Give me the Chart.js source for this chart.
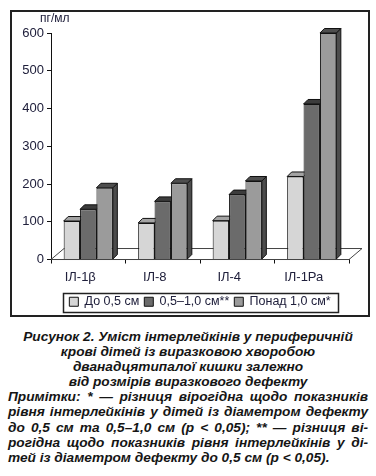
<!DOCTYPE html>
<html>
<head>
<meta charset="utf-8">
<script src="https://cdn.jsdelivr.net/npm/chart.js@4"></script>
<style>
  body { margin: 0; background: #fff; width: 376px; height: 476px; position: relative; overflow: hidden; }
  #frame { position: absolute; left: 10px; top: 10px; width: 356px; height: 303px; border: 2px solid #222; }
  #wrap { position: absolute; left: 0; top: 0; width: 356px; height: 306px; }
  #cap { position: absolute; left: 8px; top: 329px; width: 360px; font: italic bold 13.7px "Liberation Sans", Arial, sans-serif; line-height: 15.1px; color: #151515; }
  #cap .c { text-align: center; white-space: nowrap; }
  #cap .j { text-align: justify; text-align-last: justify; white-space: nowrap; }
  #cap .l { text-align: left; white-space: nowrap; }
</style>
</head>
<body>
<div id="frame"><div id="wrap"><canvas id="chart"></canvas></div></div>
<div id="cap">
  <div class="c">Рисунок 2. Уміст інтерлейкінів у периферичній</div>
  <div class="c">крові дітей із виразковою хворобою</div>
  <div class="c">дванадцятипалої кишки залежно</div>
  <div class="c">від розмірів виразкового дефекту</div>
  <div class="j">Примітки: * — різниця вірогідна щодо показників</div>
  <div class="j">рівня інтерлейкінів у дітей із діаметром дефекту</div>
  <div class="j">до 0,5 см та 0,5–1,0 см (р &lt; 0,05); ** — різниця ві-</div>
  <div class="j">рогідна щодо показників рівня інтерлейкінів у ді-</div>
  <div class="l">тей із діаметром дефекту до 0,5 см (р &lt; 0,05).</div>
</div>
<script>
Chart.defaults.font.family = "'Liberation Sans', Arial, sans-serif";
Chart.defaults.font.size = 13;
Chart.defaults.color = '#20203c';

const categories = ['ІЛ-1β', 'ІЛ-8', 'ІЛ-4', 'ІЛ-1Ра'];
const upTo05 = [102, 97, 103, 220];
const from05to10 = [133, 154, 172, 412];
const over10 = [190, 202, 208, 600];
const yTicks = [0, 100, 200, 300, 400, 500, 600];

const LIGHT = '#d6d6d6';
const DARK = '#6b6b6b';
const MID = '#9b9b9b';
const topColors = ['#a4a4a4', '#3c3c3c', '#4e4e4e'];
const sideColors = ['#9a9a9a', '#3a3a3a', '#4c4c4c'];
const DX = 4.5, DY = 4.5;

// floor + 3d faces behind the front faces
const depth3d = {
  id: 'depth3d',
  beforeDatasetsDraw(chart) {
    const { ctx, chartArea: a } = chart;
    ctx.save();
    // floor
    ctx.beginPath();
    ctx.moveTo(a.left, a.bottom);
    ctx.lineTo(a.left + 13, a.bottom - 11);
    ctx.lineTo(a.right + 13, a.bottom - 11);
    ctx.lineTo(a.right, a.bottom);
    ctx.closePath();
    ctx.fillStyle = '#fff';
    ctx.fill();
    ctx.strokeStyle = '#444';
    ctx.lineWidth = 1;
    ctx.stroke();
    chart.data.datasets.forEach((ds, i) => {
      const meta = chart.getDatasetMeta(i);
      meta.data.forEach(bar => {
        const l = bar.x - bar.width / 2, r = bar.x + bar.width / 2;
        ctx.lineWidth = 1;
        ctx.strokeStyle = '#111';
        // side
        ctx.beginPath();
        ctx.moveTo(r, bar.y);
        ctx.lineTo(r + DX, bar.y - DY);
        ctx.lineTo(r + DX, bar.base - DY);
        ctx.lineTo(r, bar.base);
        ctx.closePath();
        ctx.fillStyle = sideColors[i];
        ctx.fill();
        ctx.stroke();
        // top
        ctx.beginPath();
        ctx.moveTo(l, bar.y);
        ctx.lineTo(l + DX, bar.y - DY);
        ctx.lineTo(r + DX, bar.y - DY);
        ctx.lineTo(r, bar.y);
        ctx.closePath();
        ctx.fillStyle = topColors[i];
        ctx.fill();
        ctx.stroke();
      });
    });
    ctx.restore();
  },
  afterDraw(chart) {
    const { ctx, chartArea: a, legend } = chart;
    ctx.save();
    ctx.fillStyle = '#20203c';
    ctx.font = "12px 'Liberation Sans', Arial, sans-serif";
    ctx.textBaseline = 'middle';
    ctx.fillText('пг/мл', a.left - 11, a.top - 14);
    // legend frame
    const hb = legend.legendHitBoxes;
    if (hb && hb.length) {
      const x0 = Math.min(...hb.map(h => h.left)) - 6;
      const x1 = Math.max(...hb.map(h => h.left + h.width)) + 8;
      const y0 = Math.min(...hb.map(h => h.top)) - 3;
      const y1 = Math.max(...hb.map(h => h.top + h.height)) + 3;
      ctx.strokeStyle = '#222';
      ctx.lineWidth = 1.5;
      ctx.strokeRect(Math.round(x0) + 0.5, Math.round(y0) + 0.5, Math.round(x1 - x0), Math.round(y1 - y0));
    }
    ctx.restore();
  }
};

new Chart(document.getElementById('chart'), {
  type: 'bar',
  data: {
    labels: categories,
    datasets: [{
      label: 'До 0,5 см',
      data: upTo05,
      backgroundColor: LIGHT,
      borderColor: '#111',
      borderWidth: 1,
    }, {
      label: '0,5–1,0 см**',
      data: from05to10,
      backgroundColor: DARK,
      borderColor: '#111',
      borderWidth: 1,
    }, {
      label: 'Понад 1,0 см*',
      data: over10,
      backgroundColor: MID,
      borderColor: '#111',
      borderWidth: 1,
    }]
  },
  options: {
    responsive: true,
    maintainAspectRatio: false,
    animation: false,
    layout: { padding: { top: 21, right: 19, bottom: 0, left: 0 } },
    datasets: { bar: { categoryPercentage: 0.66, barPercentage: 1.0 } },
    plugins: {
      legend: {
        position: 'bottom',
        fullSize: false,
        labels: { boxWidth: 9, boxHeight: 9, padding: 5, font: { size: 12.5 }, color: '#20203c' }
      },
      tooltip: { enabled: false }
    },
    scales: {
      x: {
        grid: { drawOnChartArea: false, tickLength: 4, color: '#111' },
        border: { color: '#111' },
        ticks: { labelOffset: -8, padding: 2.5, font: { size: 13, lineHeight: 1.69 } },
      },
      y: {
        min: 0,
        max: 600,
        afterFit(scale) { scale.width = 39; },
        afterBuildTicks(scale) { scale.ticks = yTicks.map(v => ({ value: v })); },
        grid: { drawOnChartArea: false, tickLength: 4, color: '#111' },
        border: { color: '#111' },
        ticks: { padding: 3 },
      }
    }
  },
  plugins: [depth3d]
});
</script>
</body>
</html>
